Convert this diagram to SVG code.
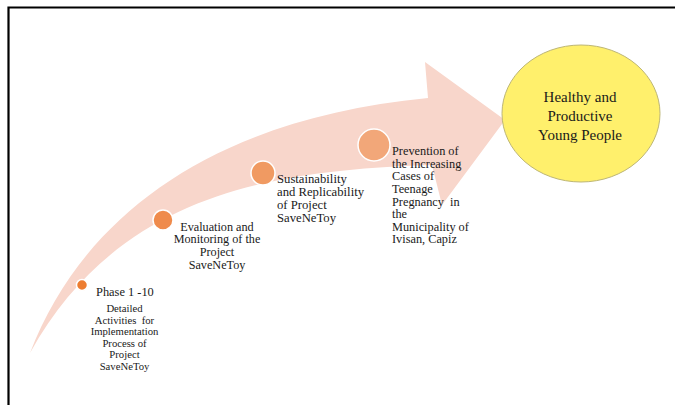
<svg xmlns="http://www.w3.org/2000/svg" width="675" height="405" viewBox="0 0 675 405">
<style>
.t{font-family:"Liberation Serif","Times New Roman",serif;fill:#1a1a1a;}
.dot{stroke:#ffffff;stroke-width:1.5;}
</style>
<rect width="675" height="405" fill="#ffffff"/>
<path d="M8.5,405 V7.5 H675" fill="none" stroke="#000" stroke-width="2.2"/>
<g id="connectors">
<path id="arrow" d="M30,353 C85,210 220,118 428,98 L425,62 L505,120 L442,205 L432,165 C280,170 120,190 30,353 Z" fill="#f8d6cb"/>
</g>
<g id="goal">
<ellipse cx="581" cy="113.5" rx="79" ry="68.5" fill="#fff06c" stroke="#bdb676" stroke-width="1"/>
<text class="t" font-size="15" text-anchor="middle"><tspan x="580" y="102">Healthy and</tspan><tspan x="580" y="121">Productive</tspan><tspan x="580" y="140">Young People</tspan></text>
</g>
<g id="step1">
<circle class="dot" cx="82" cy="285" r="5.5" fill="#ed7d31"/>
<text class="t" font-size="12.4" x="96" y="296">Phase 1 -10</text>
<text class="t" font-size="10.7" text-anchor="middle"><tspan x="124.5" y="311.5">Detailed</tspan><tspan x="124.5" y="323.5">Activities &#160;for</tspan><tspan x="124.5" y="335">Implementation</tspan><tspan x="124.5" y="346.5">Process of</tspan><tspan x="124.5" y="358">Project</tspan><tspan x="124.5" y="369.5">SaveNeToy</tspan></text>
</g>
<g id="step2">
<circle class="dot" cx="163" cy="220" r="10" fill="#ef8b4c"/>
<text class="t" font-size="12.2" text-anchor="middle"><tspan x="217" y="230.5">Evaluation and</tspan><tspan x="217" y="243.3">Monitoring of the</tspan><tspan x="217" y="256">Project</tspan><tspan x="217" y="268.8">SaveNeToy</tspan></text>
</g>
<g id="step3">
<circle class="dot" cx="263" cy="173" r="12" fill="#f09a62"/>
<text class="t" font-size="12.7"><tspan x="277" y="182.5">Sustainability</tspan><tspan x="277" y="196">and Replicability</tspan><tspan x="277" y="209">of Project</tspan><tspan x="277" y="222">SaveNeToy</tspan></text>
</g>
<g id="step4">
<circle class="dot" cx="374" cy="145" r="16" fill="#f2a779"/>
<text class="t" font-size="12.3"><tspan x="392" y="155">Prevention of</tspan><tspan x="392" y="167.5">the Increasing</tspan><tspan x="392" y="180">Cases of</tspan><tspan x="392" y="193">Teenage</tspan><tspan x="392" y="205.5">Pregnancy &#160;in</tspan><tspan x="392" y="218">the</tspan><tspan x="392" y="230.5">Municipality of</tspan><tspan x="392" y="243">Ivisan, Capiz</tspan></text>
</g>
</svg>
